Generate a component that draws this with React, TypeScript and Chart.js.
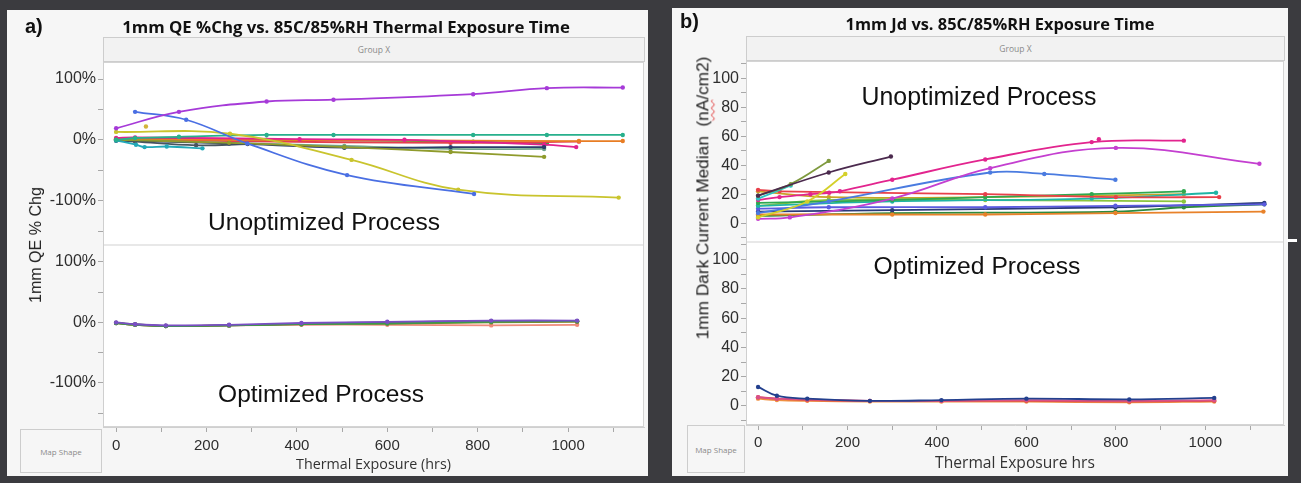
import React, { useEffect, useRef } from 'react';
import { Chart, registerables } from 'chart.js';

Chart.register(...registerables);

type Pt = [number, number];

// ---------------- DATA ----------------
// Panel a) 1mm QE %Chg, unoptimized process  [hours, % change]
const qeUnoptPurple: Pt[] = [[0, 19], [139, 46], [333, 63], [481, 66], [790, 75], [953, 85], [1121, 86]];
const qeUnoptBlue: Pt[] = [[42, 46], [155, 33], [290, -6], [511, -58], [792, -89]];
const qeUnoptYellow: Pt[] = [[0, 13], [252, 10], [521, -33], [757, -82], [1112, -95]];
const qeUnoptYellowStray: Pt[] = [[66, 22]];
const qeUnoptTeal: Pt[] = [[0, 0], [42, 3], [139, 5], [333, 8], [481, 8], [790, 8], [953, 8], [1121, 8]];
const qeUnoptCyan: Pt[] = [[0, -1], [44, -8], [63, -12], [112, -11], [191, -14]];
const qeUnoptOlive: Pt[] = [[0, 0], [250, -5], [505, -12], [740, -20], [947, -28]];
const qeUnoptNavy: Pt[] = [[0, -1], [250, -6], [505, -13], [740, -12], [947, -12]];
const qeUnoptMagenta: Pt[] = [[0, 3], [42, 4], [406, 1], [638, 0], [947, -8], [1018, -12]];
const qeUnoptOrange: Pt[] = [[0, 1], [250, 0], [1024, -2], [1121, -2]];
const qeUnoptSage: Pt[] = [[0, 0], [505, -10], [740, -15], [947, -15]];
const qeUnoptRed: Pt[] = [[0, 2], [42, 1], [250, -2], [740, -5], [1024, -3]];
const qeUnoptGreen: Pt[] = [[0, 1], [139, 2], [333, 0], [790, -3], [953, -6]];
const qeUnoptSlate: Pt[] = [[0, -1], [42, -3], [177, -9], [291, -7]];

// Panel a) optimized process
const qeOptHrs = [0, 42, 110, 250, 410, 600, 830, 1020];
const qeOptPurple = [0, -3, -5, -4, -1, 1, 3, 3];
const qeOptGreen = [-1, -4, -6, -5, -3, -2, 1, 2];
const qeOptOlive = [-1, -4, -6, -5, -3, -2, 0, 1];
const qeOptSalmon = [-1, -4, -6, -5, -4, -4, -5, -4];
const qeOptSlate = [-1, -3, -6, -5, -2, 0, 2, 2];

// Panel b) 1mm Dark current median, unoptimized process [hours, nA/cm2]
const jdUnoptDark: Pt[] = [[0, 19], [158, 35], [297, 46]];
const jdUnoptOlive: Pt[] = [[0, 19], [73, 27], [158, 43]];
const jdUnoptCyan: Pt[] = [[0, 17], [73, 26]];
const jdUnoptYellow: Pt[] = [[0, 4], [110, 15], [195, 34]];
const jdUnoptMagenta: Pt[] = [[0, 16], [48, 18], [117, 20], [159, 21], [183, 22], [300, 30], [508, 44], [746, 56], [952, 57]];
const jdUnoptMagentaStray: Pt[] = [[762, 58]];
const jdUnoptOrchid: Pt[] = [[0, 3], [71, 4], [300, 17], [519, 38], [800, 52], [1121, 41]];
const jdUnoptBlue: Pt[] = [[0, 7], [158, 15], [519, 35], [640, 34], [799, 30]];
const jdUnoptRed: Pt[] = [[0, 23], [48, 22], [508, 20], [800, 18], [1031, 18]];
const jdUnoptGreen: Pt[] = [[0, 14], [300, 16], [508, 18], [746, 20], [952, 22]];
const jdUnoptTeal: Pt[] = [[0, 12], [300, 15], [746, 17], [1024, 21]];
const jdUnoptViolet: Pt[] = [[0, 10], [158, 11], [508, 11], [799, 12], [1132, 13]];
const jdUnoptNavy: Pt[] = [[0, 8], [300, 9], [799, 11], [1132, 14]];
const jdUnoptOrange: Pt[] = [[0, 6], [300, 6], [508, 6], [799, 7], [1130, 8]];
const jdUnoptForest: Pt[] = [[0, 5], [300, 7], [799, 8], [952, 11], [1132, 13]];
const jdUnoptLime: Pt[] = [[0, 12], [158, 16], [508, 16], [952, 15]];
const jdUnoptGold: Pt[] = [[0, 22], [158, 18], [508, 18], [952, 20]];

// Panel b) optimized process
const jdOptHrs = [0, 42, 110, 250, 410, 600, 830, 1020];
const jdOptNavy = [13, 7, 5, 3.5, 4, 5, 4.5, 5.5];
const jdOptRed = [6, 5, 4, 3.5, 3.5, 3.5, 3, 3.5];
const jdOptOrange = [5, 4, 3.5, 3, 3, 3, 2.5, 3];
const jdOptPink = [6, 5, 4.5, 3.5, 3.5, 4, 3.5, 4];

// ticks
const xTickValues = [0, 100, 200, 300, 400, 500, 600, 700, 800, 900, 1000, 1100];
const xTickLabels = [0, 200, 400, 600, 800, 1000];
const qeYTickValues = [-150, -100, -50, 0, 50, 100];
const qeYTickLabels = [-100, 0, 100];
const jdYTickValues = [-10, 0, 10, 20, 30, 40, 50, 60, 70, 80, 90, 100, 110];
const jdYTickLabels = [0, 20, 40, 60, 80, 100];

// ---------------- STYLE / LAYOUT ----------------
const FONT_SANS = "'Liberation Sans', Arial, sans-serif";
const FONT_UI = "'Open Sans', 'Liberation Sans', sans-serif";

const zip = (xs: number[], ys: number[]): Pt[] => xs.map((x, i) => [x, ys[i]]);

interface Series { data: Pt[]; color: string; line?: boolean }

const qeTop: Series[] = [
  { data: qeUnoptPurple, color: '#a63ad8' },
  { data: qeUnoptBlue, color: '#4a6fe3' },
  { data: qeUnoptYellow, color: '#c9c42d' },
  { data: qeUnoptYellowStray, color: '#d2b43a', line: false },
  { data: qeUnoptTeal, color: '#27b08c' },
  { data: qeUnoptCyan, color: '#22a9b8' },
  { data: qeUnoptOlive, color: '#8f9b2c' },
  { data: qeUnoptNavy, color: '#2b3d6b' },
  { data: qeUnoptMagenta, color: '#e0228f' },
  { data: qeUnoptOrange, color: '#e87d24' },
  { data: qeUnoptSage, color: '#6fa58a' },
  { data: qeUnoptRed, color: '#e4404c' },
  { data: qeUnoptGreen, color: '#3aa04a' },
  { data: qeUnoptSlate, color: '#4a5560' },
];
const qeBottom: Series[] = [
  { data: zip(qeOptHrs, qeOptPurple), color: '#7a4fc4' },
  { data: zip(qeOptHrs, qeOptGreen), color: '#3a9a4a' },
  { data: zip(qeOptHrs, qeOptOlive), color: '#8a8a2a' },
  { data: zip(qeOptHrs, qeOptSlate), color: '#4a5a5a' },
  { data: zip(qeOptHrs, qeOptSalmon), color: '#f08a7a' },
];
const jdTop: Series[] = [
  { data: jdUnoptDark, color: '#4b2a4e' },
  { data: jdUnoptOlive, color: '#7f9a3e' },
  { data: jdUnoptCyan, color: '#2ec4c4' },
  { data: jdUnoptYellow, color: '#d4d02a' },
  { data: jdUnoptMagenta, color: '#e2248e' },
  { data: jdUnoptMagentaStray, color: '#e2248e', line: false },
  { data: jdUnoptOrchid, color: '#c43fd0' },
  { data: jdUnoptBlue, color: '#4a7be0' },
  { data: jdUnoptRed, color: '#e8404a' },
  { data: jdUnoptGreen, color: '#2fa84f' },
  { data: jdUnoptTeal, color: '#1fb5a5' },
  { data: jdUnoptViolet, color: '#5b5be0' },
  { data: jdUnoptNavy, color: '#2a3a7a' },
  { data: jdUnoptOrange, color: '#e8822a' },
  { data: jdUnoptForest, color: '#2d8a3e' },
  { data: jdUnoptLime, color: '#8cc63f' },
  { data: jdUnoptGold, color: '#c9a227' },
];
const jdBottom: Series[] = [
  { data: zip(jdOptHrs, jdOptNavy), color: '#23408e' },
  { data: zip(jdOptHrs, jdOptPink), color: '#d8508a' },
  { data: zip(jdOptHrs, jdOptRed), color: '#e0524a' },
  { data: zip(jdOptHrs, jdOptOrange), color: '#f09040' },
];

interface PanelSpec {
  left: number; top: number; width: number; height: number;
  plotLeft: number; plotTop: number; plotRight: number; plotBottom: number; split: number;
  xMin: number; xMax: number; yMin: number; yMax: number;
  yTicks: number[]; yLabels: number[]; ySuffix: string; yTickSize: number;
  xTitle: string; xTitleWidth: number; xTitleCy: number; xTickPad: number;
  topSeries: Series[]; bottomSeries: Series[];
}

const panelA: PanelSpec = {
  left: 7, top: 10, width: 641, height: 466,
  plotLeft: 103, plotTop: 62, plotRight: 645, plotBottom: 427, split: 245,
  xMin: -29, xMax: 1168, yMin: -173, yMax: 128,
  yTicks: qeYTickValues, yLabels: qeYTickLabels, ySuffix: '%', yTickSize: 16,
  xTitle: 'Thermal Exposure (hrs)', xTitleWidth: 155, xTitleCy: 465, xTickPad: 5,
  topSeries: qeTop, bottomSeries: qeBottom,
};
const panelB: PanelSpec = {
  left: 672, top: 8, width: 616, height: 468,
  plotLeft: 746, plotTop: 61, plotRight: 1285, plotBottom: 425, split: 242,
  xMin: -27, xMax: 1176, yMin: -13, yMax: 112,
  yTicks: jdYTickValues, yLabels: jdYTickLabels, ySuffix: '', yTickSize: 16,
  xTitle: 'Thermal Exposure hrs', xTitleWidth: 160, xTitleCy: 463.5, xTickPad: 4,
  topSeries: jdTop, bottomSeries: jdBottom,
};

let measureCtx: CanvasRenderingContext2D | null = null;
function fitSize(text: string, family: string, weight: string, target: number): number {
  if (!measureCtx) measureCtx = document.createElement('canvas').getContext('2d');
  measureCtx!.font = `${weight} 100px ${family}`;
  const w = measureCtx!.measureText(text).width;
  return (100 * target) / w;
}

const plotBackground = {
  id: 'plotBackground',
  beforeDraw(chart: any) {
    const { ctx, chartArea: a, scales } = chart;
    ctx.save();
    ctx.fillStyle = '#ffffff';
    ctx.fillRect(a.left, a.top, a.right - a.left, a.bottom - a.top);
    const split = scales.yTop.bottom;
    ctx.fillStyle = '#e8e8e8';
    ctx.fillRect(a.left, split - 1, a.right - a.left, 2);
    ctx.strokeStyle = '#d4d4d4';
    ctx.lineWidth = 1;
    ctx.strokeRect(a.left + 0.5, a.top + 0.5, a.right - a.left - 1, a.bottom - a.top - 1);
    ctx.restore();
  },
};

function PanelChart({ spec }: { spec: PanelSpec }) {
  const ref = useRef<HTMLCanvasElement>(null);
  useEffect(() => {
    const s = spec;
    const areaL = s.plotLeft - s.left;
    const areaT = s.plotTop - s.top;
    const areaR = s.plotRight - s.left;
    const areaB = s.plotBottom - s.top;
    const areaSplit = s.split - s.top;
    const titleSize = fitSize(s.xTitle, FONT_UI, '400', s.xTitleWidth);
    const titlePad = s.top + s.height - s.xTitleCy - 0.6 * titleSize;

    const mk = (list: Series[], axis: string) =>
      list.map((se) => ({
        data: se.data.map(([x, y]) => ({ x, y })),
        xAxisID: 'x',
        yAxisID: axis,
        borderColor: se.color,
        backgroundColor: se.color,
        pointBackgroundColor: se.color,
        pointBorderWidth: 0,
        pointRadius: 2.2,
        borderWidth: 1.8,
        showLine: se.line !== false,
        tension: 0.4,
        fill: false,
      }));

    const setTicks = (values: number[]) => (sc: any) => {
      sc.ticks = values.map((v) => ({ value: v }));
    };

    const yAxis = (weight: number, stackWeight: number) => ({
      type: 'linear',
      position: 'left',
      stack: 'plots',
      stackWeight,
      weight,
      min: s.yMin,
      max: s.yMax,
      border: { color: '#cfcfcf' },
      grid: { drawOnChartArea: false, drawTicks: true, tickLength: 5, color: '#a8a8a8' },
      ticks: {
        autoSkip: false,
        padding: 2,
        color: '#2e2e2e',
        font: { family: FONT_SANS, size: s.yTickSize },
        callback: (v: any) => (s.yLabels.includes(Number(v)) ? `${v}${s.ySuffix}` : ''),
      },
      afterBuildTicks: setTicks(s.yTicks),
      afterFit: (sc: any) => { sc.width = areaL; },
    });

    const chart = new Chart(ref.current!, {
      type: 'line',
      data: { datasets: [...mk(s.topSeries, 'yTop'), ...mk(s.bottomSeries, 'yBot')] as any },
      options: {
        animation: false,
        responsive: false,
        events: [],
        layout: { padding: { top: areaT, right: s.width - areaR, left: 0, bottom: 0 } },
        plugins: { legend: { display: false }, tooltip: { enabled: false } },
        scales: {
          x: {
            type: 'linear',
            position: 'bottom',
            min: s.xMin,
            max: s.xMax,
            border: { color: '#cfcfcf' },
            grid: { drawOnChartArea: false, drawTicks: true, tickLength: 5, color: '#a8a8a8' },
            ticks: {
              autoSkip: false,
              maxRotation: 0,
              padding: s.xTickPad,
              color: '#2e2e2e',
              font: { family: FONT_SANS, size: 15 },
              callback: (v: any) => (xTickLabels.includes(Number(v)) ? String(v) : ''),
            },
            afterBuildTicks: setTicks(xTickValues),
            title: {
              display: true,
              text: s.xTitle,
              color: '#333333',
              font: { family: FONT_UI, size: titleSize },
              padding: { top: 0, bottom: titlePad },
            },
            afterFit: (sc: any) => { sc.height = s.height - areaB; },
          },
          yTop: yAxis(2, areaSplit - areaT),
          yBot: yAxis(1, areaB - areaSplit),
        } as any,
      },
      plugins: [plotBackground],
    } as any);
    return () => chart.destroy();
  }, [spec]);
  return (
    <canvas
      ref={ref}
      width={spec.width}
      height={spec.height}
      style={{ position: 'absolute', left: spec.left, top: spec.top, width: spec.width, height: spec.height }}
    />
  );
}

function FitText(props: {
  text: string; cx: number; cy: number; width: number; family: string;
  weight?: string; color?: string; rotate?: boolean; children?: React.ReactNode;
}) {
  const { text, cx, cy, width, family, weight = '400', color = '#111', rotate = false, children } = props;
  const size = fitSize(text, family, weight, width);
  return (
    <div
      style={{
        position: 'absolute', left: cx, top: cy,
        transform: `translate(-50%, -50%)${rotate ? ' rotate(-90deg)' : ''}`,
        fontFamily: family, fontWeight: weight as any, fontSize: size, lineHeight: 1,
        whiteSpace: 'pre', color,
      }}
    >
      {children ?? text}
    </div>
  );
}

function Box(props: { left: number; top: number; width: number; height: number; text: string; size: number; bg: string }) {
  const { left, top, width, height, text, size, bg } = props;
  return (
    <div
      style={{
        position: 'absolute', left, top, width, height, boxSizing: 'border-box',
        background: bg, border: '1px solid #cdcdcd',
        display: 'flex', alignItems: 'center', justifyContent: 'center',
        fontFamily: FONT_UI, fontSize: size, color: '#8a8a8a', whiteSpace: 'nowrap',
      }}
    >
      {text}
    </div>
  );
}

export default function App() {
  return (
    <div style={{ position: 'fixed', left: 0, top: 0, width: 1301, height: 483, background: '#3b3b3f', overflow: 'hidden' }}>
      <div style={{ position: 'absolute', left: 7, top: 10, width: 641, height: 466, background: '#f6f6f6' }} />
      <div style={{ position: 'absolute', left: 672, top: 8, width: 616, height: 468, background: '#f6f6f6' }} />
      <PanelChart spec={panelA} />
      <PanelChart spec={panelB} />

      {/* panel a overlays */}
      <div style={{ position: 'absolute', left: 25, top: 16, fontFamily: FONT_SANS, fontWeight: 700, fontSize: 20, lineHeight: 1, color: '#111' }}>a)</div>
      <FitText text="1mm QE %Chg vs. 85C/85%RH Thermal Exposure Time" cx={346} cy={26.5} width={448} family={FONT_UI} weight="700" />
      <Box left={103} top={37} width={542} height={25} text="Group X" size={8.5} bg="#f2f2f2" />
      <Box left={20} top={429} width={82} height={44} text="Map Shape" size={8} bg="#f6f6f6" />
      <FitText text="1mm QE % Chg" cx={35} cy={245} width={116} family={FONT_SANS} color="#222" rotate />
      <FitText text="Unoptimized Process" cx={324} cy={222} width={232} family={FONT_SANS} />
      <FitText text="Optimized Process" cx={321} cy={393.5} width={206} family={FONT_SANS} />

      {/* panel b overlays */}
      <div style={{ position: 'absolute', left: 680, top: 11, fontFamily: FONT_SANS, fontWeight: 700, fontSize: 20, lineHeight: 1, color: '#111' }}>b)</div>
      <FitText text="1mm Jd vs. 85C/85%RH Exposure Time" cx={1000} cy={24} width={309} family={FONT_UI} weight="700" />
      <Box left={746} top={36} width={539} height={25} text="Group X" size={8.5} bg="#f2f2f2" />
      <Box left={687} top={425} width={58} height={48} text="Map Shape" size={8} bg="#f6f6f6" />
      <FitText text="1mm Dark Current Median  (nA/cm2)" cx={703} cy={198} width={283} family={FONT_SANS} color="#222" rotate>
        {'1mm Dark Current Median  ('}
        <span
          style={{
            textDecorationLine: 'underline', textDecorationStyle: 'wavy', textDecorationColor: '#e03030',
            textDecorationThickness: '1px', textUnderlineOffset: 2,
          }}
        >
          nA
        </span>
        {'/cm2)'}
      </FitText>
      <FitText text="Unoptimized Process" cx={979} cy={96} width={235} family={FONT_SANS} />
      <FitText text="Optimized Process" cx={977} cy={266} width={207} family={FONT_SANS} />
      <div style={{ position: 'absolute', left: 1287, top: 239, width: 10, height: 3, background: '#ffffff' }} />
    </div>
  );
}
